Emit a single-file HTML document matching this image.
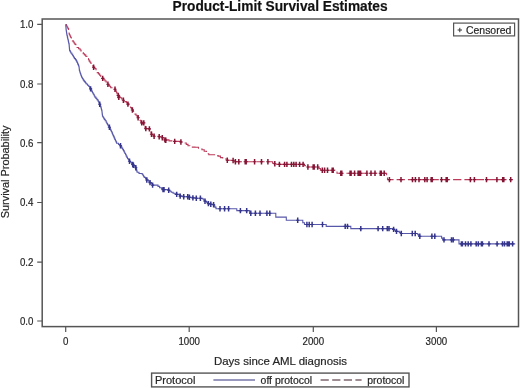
<!DOCTYPE html>
<html><head><meta charset="utf-8"><style>
html,body{margin:0;padding:0;background:#fff;}
body{width:520px;height:388px;overflow:hidden;position:relative;font-family:"Liberation Sans",sans-serif;}
svg{position:absolute;left:0;top:0;display:block;will-change:transform;filter:blur(0.3px);}
</style></head><body>
<svg width="520" height="388" viewBox="0 0 520 388">
<g font-family="Liberation Sans, sans-serif" fill="#262626" stroke="#262626" stroke-width="0.2">
<text x="280.1" y="10.7" text-anchor="middle" font-size="13.72" font-weight="bold" fill="#111">Product-Limit Survival Estimates</text>
<text transform="translate(8.7 171.9) rotate(-90)" text-anchor="middle" font-size="10.9">Survival Probability</text>
<text x="280.5" y="364.6" text-anchor="middle" font-size="11.45">Days since AML diagnosis</text>
<text transform="translate(33.4 324.9) scale(0.875 1)" text-anchor="end" font-size="11.1">0.0</text><text transform="translate(33.4 266.1) scale(0.875 1)" text-anchor="end" font-size="11.1">0.2</text><text transform="translate(33.4 206.4) scale(0.875 1)" text-anchor="end" font-size="11.1">0.4</text><text transform="translate(33.4 146.6) scale(0.875 1)" text-anchor="end" font-size="11.1">0.6</text><text transform="translate(33.4 87.9) scale(0.875 1)" text-anchor="end" font-size="11.1">0.8</text><text transform="translate(33.4 28.3) scale(0.875 1)" text-anchor="end" font-size="11.1">1.0</text><text transform="translate(65.7 344.9) scale(0.875 1)" text-anchor="middle" font-size="11.1">0</text><text transform="translate(189.2 344.9) scale(0.875 1)" text-anchor="middle" font-size="11.1">1000</text><text transform="translate(313.3 344.9) scale(0.875 1)" text-anchor="middle" font-size="11.1">2000</text><text transform="translate(436.4 344.9) scale(0.875 1)" text-anchor="middle" font-size="11.1">3000</text>
<text x="466" y="33.8" font-size="10.45">Censored</text>
<text x="155" y="384" font-size="11">Protocol</text>
<text x="260.6" y="383.8" font-size="10.45">off protocol</text>
<text x="367.3" y="383.8" font-size="10.45">protocol</text>
</g>
<path d="M37.2 321.0H42.2 M37.2 262.2H42.2 M37.2 202.5H42.2 M37.2 142.7H42.2 M37.2 84.0H42.2 M37.2 24.4H42.2 M65.7 326.6V332 M189.2 326.6V332 M313.3 326.6V332 M436.4 326.6V332" stroke="#555555" stroke-width="1.2" fill="none"/>
<rect x="42.2" y="19.0" width="476.3" height="307.6" fill="none" stroke="#555555" stroke-width="1.5"/>
<rect x="453.6" y="23.1" width="61" height="12.8" fill="none" stroke="#555555" stroke-width="1.2"/>
<path d="M459.8 27.8v4.4M457.6 30h4.4" stroke="#333" stroke-width="1"/>
<rect x="151.6" y="373.1" width="257.4" height="13.8" fill="none" stroke="#555555" stroke-width="1.4"/>
<path d="M213.4 380H255" stroke="#7676a8" stroke-width="1.4" fill="none"/>
<path d="M320.6 380H361.6" stroke="#7e6870" stroke-width="1.4" stroke-dasharray="8.2 3.4" fill="none"/>
<path d="M65.7 24.6 H66.4 V26.0 H67.2 V27.3 H67.9 V28.6 H68.6 V30.0 H68.8 V31.2 H68.9 V32.4 H69.1 V33.5 H69.3 V34.7 H70.0 V36.0 H70.6 V37.3 H71.3 V38.6 H71.8 V39.8 H72.4 V40.9 H73.3 V42.0 H74.2 V43.2 H75.0 V44.4 H75.9 V45.5 H76.5 V46.5 H77.1 V47.5 H78.6 V48.8 H80.1 V50.0 H81.1 V51.2 H82.2 V52.5 H83.2 V53.7 H84.4 V54.9 H85.7 V56.2 H86.9 V57.4 H87.7 V58.6 H88.5 V59.8 H89.2 V61.1 H90.0 V62.3 H90.9 V63.5 H91.8 V64.8 H92.8 V66.0 H93.7 V67.3 H94.8 V68.5 H96.0 V69.8 H96.6 V71.2 H97.2 V72.6 H98.4 V73.9 H99.6 V75.2 H100.8 V76.5 H101.8 V77.5 H102.7 V78.4 H103.9 V79.7 H105.0 V81.0 H106.2 V82.3 H107.1 V83.2 H107.9 V84.2 H108.8 V85.4 H109.8 V86.5 H110.7 V87.7 H115.0 V89.3 H115.5 V90.5 H116.1 V91.7 H116.6 V92.8 H117.1 V94.0 H117.7 V95.2 H118.2 V96.4 H119.9 V97.7 H121.7 V99.0 H123.4 V100.3 H124.9 V101.6 H126.4 V102.8 H127.9 V104.1 H128.8 V105.3 H129.7 V106.5 H130.6 V107.6 H131.5 V108.8 H132.4 V110.0 H133.3 V111.4 H134.1 V112.7 H135.0 V114.1 H136.0 V115.3 H137.1 V116.5 H138.1 V117.7 H139.0 V119.0 H139.9 V120.3 H140.8 V121.6 H141.7 V122.9 H142.5 V124.0 H143.3 V125.2 H144.2 V126.3 H145.0 V127.5 H145.8 V128.6 H149.4 V129.2 H149.9 V130.4 H150.4 V131.7 H151.0 V132.9 H151.5 V134.2 H152.8 V135.2 H154.1 V136.3 H159.2 V136.8 H162.3 V137.8 H163.6 V138.9 H164.9 V139.9 H169.0 V140.9 H174.7 V141.4 H180.9 V142.0 H184.5 V143.0 H186.3 V144.4 H188.0 V145.7 H189.8 V147.1 H195.0 V147.2 H198.5 V148.7 H201.9 V149.8 H204.2 V151.2 H206.5 V152.7 H207.7 V153.8 H208.8 V154.8 H214.6 V155.6 H218.1 V156.1 H220.4 V157.6 H222.7 V159.0 H227.3 V160.2 H233.1 V160.5 H235.4 V161.7 H272.6 V163.3 H273.8 V164.4 H304.5 V165.6 H306.5 V167.0 H319.0 V168.5 H320.4 V170.3 H335.0 V171.1 H337.0 V173.3 H386.6 V176.1 H387.5 V179.6 H513.0" stroke="#bc3a5a" stroke-width="1.1" stroke-dasharray="8.3 3" fill="none"/>
<path d="M93.6 64.6v5.4 M102.7 75.7v5.4 M107.9 81.5v5.4 M115.0 86.6v5.4 M118.2 92.8v5.4 M118.8 94.6v5.4 M123.4 97.6v5.4 M127.9 101.4v5.4 M132.4 107.3v5.4 M138.1 115.0v5.4 M141.7 120.2v5.4 M143.8 120.2v5.4 M145.8 125.9v5.4 M149.4 126.2v5.4 M151.5 131.5v5.4 M154.1 133.6v5.4 M159.2 134.1v5.4 M162.3 135.1v5.4 M164.9 137.2v5.4 M165.8 137.6v5.4 M174.7 138.7v5.4 M180.9 139.3v5.4 M227.3 157.5v5.4 M233.1 157.8v5.4 M235.4 159.0v5.4 M238.8 159.0v5.4 M245.2 159.0v5.4 M246.2 159.0v5.4 M254.6 159.0v5.4 M261.5 159.0v5.4 M267.9 159.0v5.4 M274.8 161.1v5.4 M279.4 161.7v5.4 M284.6 161.7v5.4 M286.9 161.7v5.4 M291.5 161.7v5.4 M293.8 161.7v5.4 M296.1 161.7v5.4 M299.6 161.7v5.4 M303.1 161.7v5.4 M307.9 164.3v5.4 M313.2 164.3v5.4 M314.2 164.3v5.4 M317.7 164.3v5.4 M322.3 167.6v5.4 M324.6 167.6v5.4 M327.5 167.6v5.4 M332.2 167.6v5.4 M333.2 167.6v5.4 M340.8 170.6v5.4 M341.8 170.6v5.4 M350.1 170.6v5.4 M351.1 170.6v5.4 M354.6 170.6v5.4 M358.1 170.6v5.4 M359.1 170.6v5.4 M360.6 170.6v5.4 M366.9 170.6v5.4 M371.0 170.6v5.4 M375.0 170.6v5.4 M380.3 170.6v5.4 M381.3 170.6v5.4 M384.2 170.6v5.4 M389.4 176.9v5.4 M401.0 176.9v5.4 M412.5 176.9v5.4 M415.4 176.9v5.4 M419.0 176.9v5.4 M424.8 176.9v5.4 M427.1 176.9v5.4 M431.2 176.9v5.4 M432.2 176.9v5.4 M441.5 176.9v5.4 M446.2 176.9v5.4 M447.2 176.9v5.4 M470.4 176.9v5.4 M474.4 176.9v5.4 M486.5 176.9v5.4 M496.9 176.9v5.4 M502.7 176.9v5.4 M503.8 176.9v5.4 M510.7 176.9v5.4" stroke="#841434" stroke-width="1.5" fill="none"/><path d="M92.0 67.3h3.2 M101.1 78.4h3.2 M106.3 84.2h3.2 M113.4 89.3h3.2 M116.6 95.5h3.2 M117.2 97.3h3.2 M121.8 100.3h3.2 M126.3 104.1h3.2 M130.8 110.0h3.2 M136.5 117.7h3.2 M140.1 122.9h3.2 M142.2 122.9h3.2 M144.2 128.6h3.2 M147.8 128.9h3.2 M149.9 134.2h3.2 M152.5 136.3h3.2 M157.6 136.8h3.2 M160.7 137.8h3.2 M163.3 139.9h3.2 M164.2 140.3h3.2 M173.1 141.4h3.2 M179.3 142.0h3.2 M225.7 160.2h3.2 M231.5 160.5h3.2 M233.8 161.7h3.2 M237.2 161.7h3.2 M243.6 161.7h3.2 M244.6 161.7h3.2 M253.0 161.7h3.2 M259.9 161.7h3.2 M266.3 161.7h3.2 M273.2 163.8h3.2 M277.8 164.4h3.2 M283.0 164.4h3.2 M285.3 164.4h3.2 M289.9 164.4h3.2 M292.2 164.4h3.2 M294.5 164.4h3.2 M298.0 164.4h3.2 M301.5 164.4h3.2 M306.3 167.0h3.2 M311.6 167.0h3.2 M312.6 167.0h3.2 M316.1 167.0h3.2 M320.7 170.3h3.2 M323.0 170.3h3.2 M325.9 170.3h3.2 M330.6 170.3h3.2 M331.6 170.3h3.2 M339.2 173.3h3.2 M340.2 173.3h3.2 M348.5 173.3h3.2 M349.5 173.3h3.2 M353.0 173.3h3.2 M356.5 173.3h3.2 M357.5 173.3h3.2 M359.0 173.3h3.2 M365.3 173.3h3.2 M369.4 173.3h3.2 M373.4 173.3h3.2 M378.7 173.3h3.2 M379.7 173.3h3.2 M382.6 173.3h3.2 M387.8 179.6h3.2 M399.4 179.6h3.2 M410.9 179.6h3.2 M413.8 179.6h3.2 M417.4 179.6h3.2 M423.2 179.6h3.2 M425.5 179.6h3.2 M429.6 179.6h3.2 M430.6 179.6h3.2 M439.9 179.6h3.2 M444.6 179.6h3.2 M445.6 179.6h3.2 M468.8 179.6h3.2 M472.8 179.6h3.2 M484.9 179.6h3.2 M495.3 179.6h3.2 M501.1 179.6h3.2 M502.2 179.6h3.2 M509.1 179.6h3.2" stroke="#841434" stroke-width="1.1" fill="none"/>
<path d="M65.7 24.6 H65.8 V26.0 H65.9 V27.3 H66.0 V28.6 H66.1 V30.0 H66.3 V31.1 H66.5 V32.2 H66.6 V33.3 H66.8 V34.4 H67.0 V35.5 H67.3 V36.9 H67.6 V38.2 H67.9 V39.5 H68.2 V40.9 H68.5 V42.3 H68.8 V43.6 H69.1 V45.0 H69.2 V46.1 H69.3 V47.2 H69.4 V48.4 H69.5 V49.5 H69.6 V50.6 H70.2 V51.8 H70.8 V53.0 H71.8 V54.2 H72.7 V55.5 H73.3 V56.5 H73.9 V57.6 H74.5 V58.6 H75.5 V59.9 H76.4 V61.1 H77.0 V62.4 H77.6 V63.6 H78.0 V64.6 H78.5 V65.7 H78.9 V66.7 H79.1 V67.8 H79.2 V68.8 H79.3 V69.9 H79.5 V71.0 H79.9 V72.2 H80.3 V73.5 H80.7 V74.7 H81.1 V75.7 H81.5 V76.8 H81.9 V77.8 H82.5 V78.8 H83.2 V79.9 H83.8 V80.9 H84.6 V81.9 H85.5 V83.0 H86.3 V84.0 H87.5 V85.2 H88.8 V86.5 H89.7 V87.7 H90.6 V88.9 H91.2 V90.2 H91.8 V91.4 H92.4 V92.5 H93.0 V93.7 H93.7 V94.8 H94.3 V96.0 H94.9 V97.1 H95.9 V98.4 H96.9 V99.6 H97.9 V100.9 H98.5 V102.0 H99.1 V103.1 H99.7 V104.2 H100.2 V105.6 H100.6 V106.9 H101.1 V108.3 H101.4 V109.5 H101.7 V110.8 H102.0 V112.0 H102.1 V113.0 H102.2 V114.1 H102.4 V115.2 H102.5 V116.2 H103.1 V117.3 H103.7 V118.3 H104.3 V119.4 H105.2 V120.8 H106.2 V122.2 H106.9 V123.6 H107.6 V125.0 H108.5 V126.2 H109.4 V127.3 H109.9 V128.3 H110.3 V129.4 H110.8 V130.4 H111.3 V131.5 H111.9 V132.9 H112.5 V134.2 H113.1 V135.6 H113.7 V136.9 H114.3 V138.1 H114.8 V139.4 H115.4 V140.7 H116.0 V141.9 H116.6 V143.2 H118.5 V144.5 H120.5 V145.8 H121.3 V147.1 H122.0 V148.4 H122.8 V149.6 H123.5 V150.9 H124.3 V152.2 H124.9 V153.5 H125.6 V154.8 H126.2 V156.1 H126.9 V157.4 H127.5 V158.7 H128.5 V159.9 H129.5 V161.2 H130.6 V162.3 H131.6 V163.4 H132.7 V164.5 H133.7 V165.6 H134.8 V166.6 H135.8 V167.7 H136.1 V168.8 H136.4 V169.9 H136.8 V171.1 H137.1 V172.2 H139.0 V173.5 H142.2 V174.2 H142.9 V175.3 H143.5 V176.3 H144.2 V177.4 H145.5 V178.7 H146.8 V180.0 H148.4 V181.3 H150.0 V182.6 H151.3 V183.8 H152.6 V185.1 H156.4 V185.1 H158.0 V186.4 H159.6 V187.7 H161.6 V188.6 H163.5 V189.6 H168.7 V190.3 H169.9 V191.2 H171.2 V192.2 H173.1 V193.3 H175.1 V194.4 H179.6 V195.4 H180.2 V196.1 H183.7 V196.7 H189.4 V197.3 H192.9 V197.9 H196.3 V198.2 H200.4 V198.2 H202.7 V199.0 H203.8 V200.2 H205.0 V201.3 H206.7 V202.4 H208.4 V203.6 H210.8 V204.2 H213.6 V204.8 H214.2 V205.9 H214.8 V207.1 H216.0 V208.8 H236.8 V210.6 H249.6 V213.3 H275.8 V217.1 H286.3 V220.3 H302.8 V222.8 H304.5 V224.5 H326.2 V226.4 H350.8 V228.6 H392.8 V229.4 H394.6 V230.2 H395.8 V231.4 H399.3 V232.4 H400.6 V233.5 H417.8 V234.6 H418.6 V236.3 H441.6 V238.1 H442.8 V239.9 H459.0 V243.9 H515.2" stroke="#5858aa" stroke-width="1.1" fill="none"/>
<path d="M90.6 86.2v5.4 M99.7 101.5v5.4 M109.4 124.6v5.4 M120.5 143.1v5.4 M129.5 158.5v5.4 M132.7 161.8v5.4 M133.4 162.5v5.4 M135.8 165.0v5.4 M146.8 177.3v5.4 M150.0 179.9v5.4 M152.6 182.4v5.4 M163.0 186.9v5.4 M164.0 186.9v5.4 M168.7 187.6v5.4 M176.7 191.7v5.4 M180.2 193.4v5.4 M183.7 194.0v5.4 M187.7 194.0v5.4 M189.4 194.6v5.4 M192.9 195.2v5.4 M196.3 195.5v5.4 M200.4 195.5v5.4 M205.0 198.6v5.4 M208.4 200.9v5.4 M210.8 201.5v5.4 M213.6 202.1v5.4 M220.0 206.1v5.4 M224.6 206.1v5.4 M228.6 206.1v5.4 M240.4 207.9v5.4 M246.7 207.9v5.4 M250.8 210.6v5.4 M255.4 210.6v5.4 M260.0 210.6v5.4 M266.9 210.6v5.4 M269.8 210.6v5.4 M297.7 217.6v5.4 M306.9 221.8v5.4 M309.2 221.8v5.4 M312.1 221.8v5.4 M322.5 221.8v5.4 M345.2 223.7v5.4 M347.5 223.7v5.4 M360.8 225.9v5.4 M378.1 225.9v5.4 M382.7 225.9v5.4 M387.3 225.9v5.4 M389.0 225.9v5.4 M393.6 226.7v5.4 M396.5 228.7v5.4 M401.3 230.8v5.4 M412.3 230.8v5.4 M415.2 230.8v5.4 M419.8 233.6v5.4 M431.9 233.6v5.4 M434.8 233.6v5.4 M444.0 237.2v5.4 M451.5 237.2v5.4 M453.2 237.2v5.4 M461.4 241.2v5.4 M462.4 241.2v5.4 M465.5 241.2v5.4 M468.2 241.2v5.4 M470.9 241.2v5.4 M476.2 241.2v5.4 M478.3 241.2v5.4 M481.4 241.2v5.4 M482.4 241.2v5.4 M489.0 241.2v5.4 M497.1 241.2v5.4 M502.5 241.2v5.4 M504.5 241.2v5.4 M507.2 241.2v5.4 M508.3 241.2v5.4 M509.3 241.2v5.4 M512.6 241.2v5.4" stroke="#34348c" stroke-width="1.5" fill="none"/><path d="M89.0 88.9h3.2 M98.1 104.2h3.2 M107.8 127.3h3.2 M118.9 145.8h3.2 M127.9 161.2h3.2 M131.1 164.5h3.2 M131.8 165.2h3.2 M134.2 167.7h3.2 M145.2 180.0h3.2 M148.4 182.6h3.2 M151.0 185.1h3.2 M161.4 189.6h3.2 M162.4 189.6h3.2 M167.1 190.3h3.2 M175.1 194.4h3.2 M178.6 196.1h3.2 M182.1 196.7h3.2 M186.1 196.7h3.2 M187.8 197.3h3.2 M191.3 197.9h3.2 M194.7 198.2h3.2 M198.8 198.2h3.2 M203.4 201.3h3.2 M206.8 203.6h3.2 M209.2 204.2h3.2 M212.0 204.8h3.2 M218.4 208.8h3.2 M223.0 208.8h3.2 M227.0 208.8h3.2 M238.8 210.6h3.2 M245.1 210.6h3.2 M249.2 213.3h3.2 M253.8 213.3h3.2 M258.4 213.3h3.2 M265.3 213.3h3.2 M268.2 213.3h3.2 M296.1 220.3h3.2 M305.3 224.5h3.2 M307.6 224.5h3.2 M310.5 224.5h3.2 M320.9 224.5h3.2 M343.6 226.4h3.2 M345.9 226.4h3.2 M359.2 228.6h3.2 M376.5 228.6h3.2 M381.1 228.6h3.2 M385.7 228.6h3.2 M387.4 228.6h3.2 M392.0 229.4h3.2 M394.9 231.4h3.2 M399.7 233.5h3.2 M410.7 233.5h3.2 M413.6 233.5h3.2 M418.2 236.3h3.2 M430.3 236.3h3.2 M433.2 236.3h3.2 M442.4 239.9h3.2 M449.9 239.9h3.2 M451.6 239.9h3.2 M459.8 243.9h3.2 M460.8 243.9h3.2 M463.9 243.9h3.2 M466.6 243.9h3.2 M469.3 243.9h3.2 M474.6 243.9h3.2 M476.7 243.9h3.2 M479.8 243.9h3.2 M480.8 243.9h3.2 M487.4 243.9h3.2 M495.5 243.9h3.2 M500.9 243.9h3.2 M502.9 243.9h3.2 M505.6 243.9h3.2 M506.7 243.9h3.2 M507.7 243.9h3.2 M511.0 243.9h3.2" stroke="#34348c" stroke-width="1.1" fill="none"/>
</svg>
</body></html>
